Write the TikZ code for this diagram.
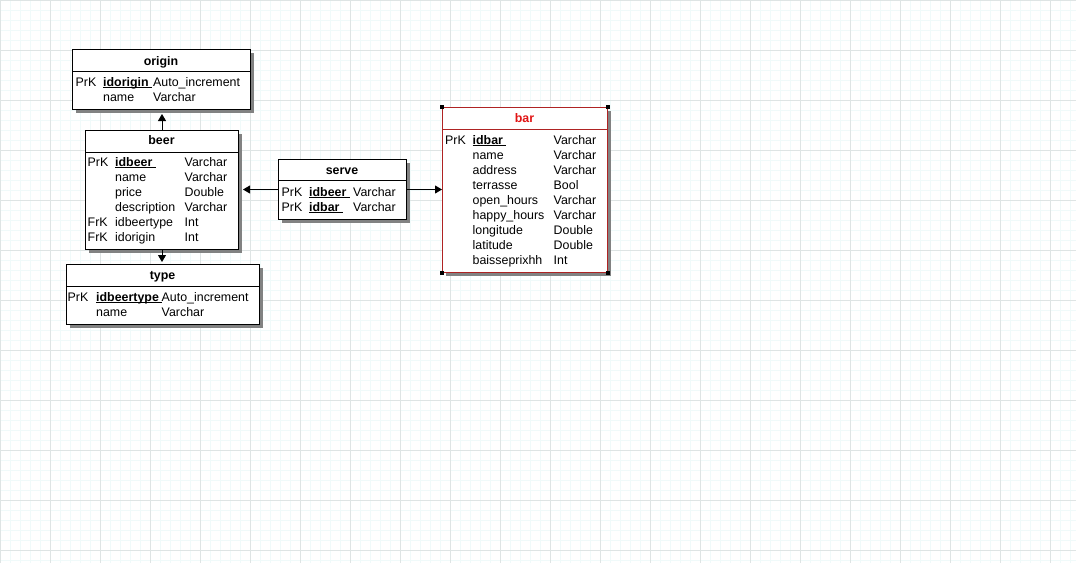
\documentclass[tikz,border=0pt]{standalone}
\usepackage{fontspec}
\setmainfont{Liberation Sans}
\usetikzlibrary{arrows.meta,shadows}
\definecolor{gridminor}{RGB}{240,250,250}
\definecolor{gridmajor}{RGB}{222,228,228}
\definecolor{barred}{RGB}{175,35,35}
\definecolor{titlered}{RGB}{225,20,20}
\definecolor{shadowgray}{RGB}{130,130,130}
\newcommand\ukey[1]{\setbox0\hbox{\textbf{#1}\ }\rlap{\rule[-2pt]{\wd0}{1pt}}\box0}
\newcommand\erow[8]{%
  \node[txt] (#1k) at (#2,#5) {#6};
  \node[txt] (#1f) at (#3,#5) {#7};
  \node[txt] (#1t) at (#4,#5) {#8};}
\newcommand\nrow[6]{%
  \node[txt] (#1f) at (#2,#4) {#5};
  \node[txt] (#1t) at (#3,#4) {#6};}
\tikzset{
 tbl/.style={draw=black, line width=1pt, fill=white, anchor=north west, inner sep=0pt,
   drop shadow={shadow xshift=3pt, shadow yshift=-3pt, fill=shadowgray, opacity=1}},
 txt/.style={anchor=base west, inner sep=0pt, font=\fontsize{12.4}{14}\selectfont},
 ttl/.style={anchor=base, inner sep=0pt, font=\fontsize{12.4}{14}\selectfont\bfseries},
 conn/.style={line width=1pt, -{Triangle[width=8pt,length=7pt]}},
 hline/.style={line width=1pt},
 gmin/.style={draw=gridminor, line width=0.7pt},
 gmaj/.style={draw=gridmajor, line width=0.7pt},
}
\begin{document}
\begin{tikzpicture}[x=1pt,y=-1pt]
\useasboundingbox (0,0) rectangle (1076,563);
\fill[white] (0,0) rectangle (1076,563);
% grid
\foreach \x in {0,10,...,1070} \draw[gmin] (\x,0) -- (\x,563);
\foreach \y in {0,10,...,560} \draw[gmin] (0,\y) -- (1076,\y);
\foreach \x in {0,50,...,1050} \draw[gmaj] (\x,0) -- (\x,563);
\foreach \y in {0,50,...,550} \draw[gmaj] (0,\y) -- (1076,\y);

% origin
\node[tbl, minimum width=178pt, minimum height=60pt] (origin) at (72,49) {};
\draw[hline] (origin.west |- 0,71) -- (origin.east |- 0,71);
\node[ttl] (origint) at (161,65) {origin};
\erow{o1}{75.5}{103}{153}{86}{PrK}{\ukey{idorigin}}{Auto\_increment}
\nrow{o2}{103}{153}{101}{name}{Varchar}

% beer
\node[tbl, minimum width=153pt, minimum height=119pt] (beer) at (85,130) {};
\draw[hline] (beer.west |- 0,152) -- (beer.east |- 0,152);
\node[ttl] (beert) at (161.5,144) {beer};
\erow{b1}{87.5}{115}{184.5}{166}{PrK}{\ukey{idbeer}}{Varchar}
\nrow{b2}{115}{184.5}{181}{name}{Varchar}
\nrow{b3}{115}{184.5}{196}{price}{Double}
\nrow{b4}{115}{184.5}{211}{description}{Varchar}
\erow{b5}{87.5}{115}{184.5}{226}{FrK}{idbeertype}{Int}
\erow{b6}{87.5}{115}{184.5}{241}{FrK}{idorigin}{Int}

% type
\node[tbl, minimum width=193pt, minimum height=60pt] (type) at (66,264) {};
\draw[hline] (type.west |- 0,286) -- (type.east |- 0,286);
\node[ttl] (typet) at (162.5,279) {type};
\erow{t1}{67.5}{96}{161.5}{301}{PrK}{\ukey{idbeertype}}{Auto\_increment}
\nrow{t2}{96}{161.5}{316}{name}{Varchar}

% serve
\node[tbl, minimum width=128pt, minimum height=60pt] (serve) at (278,159) {};
\draw[hline] (serve.west |- 0,180) -- (serve.east |- 0,180);
\node[ttl] (servet) at (342,174) {serve};
\erow{s1}{281.5}{309}{353}{196}{PrK}{\ukey{idbeer}}{Varchar}
\erow{s2}{281.5}{309}{353}{211}{PrK}{\ukey{idbar}}{Varchar}

% bar
\node[tbl, draw=barred, minimum width=165pt, minimum height=165pt] (bar) at (442,107) {};
\draw[hline, draw=barred] (bar.west |- 0,129) -- (bar.east |- 0,129);
\node[ttl, text=titlered] (bart) at (524.5,122) {bar};
\erow{r1}{445}{472.5}{553.5}{144}{PrK}{\ukey{idbar}}{Varchar}
\nrow{r2}{472.5}{553.5}{159}{name}{Varchar}
\nrow{r3}{472.5}{553.5}{174}{address}{Varchar}
\nrow{r4}{472.5}{553.5}{189}{terrasse}{Bool}
\nrow{r5}{472.5}{553.5}{204}{open\_hours}{Varchar}
\nrow{r6}{472.5}{553.5}{219}{happy\_hours}{Varchar}
\nrow{r7}{472.5}{553.5}{234}{longitude}{Double}
\nrow{r8}{472.5}{553.5}{249}{latitude}{Double}
\nrow{r9}{472.5}{553.5}{264}{baisseprixhh}{Int}
\foreach \p in {north west, north east, south west, south east}
  \fill[black] (bar.\p) ++(-2,-2) rectangle ++(4,4);

% connectors
\draw[conn, shorten >=4pt] (beer.north) -- (beer.north |- origin.south);
\draw[conn, shorten >=2pt] (beer.south) -- (beer.south |- type.north);
\draw[conn, shorten >=4pt] (serve.west) -- (serve.west -| beer.east);
\draw[conn] (serve.east) -- (serve.east -| bar.west);
\end{tikzpicture}
\end{document}
